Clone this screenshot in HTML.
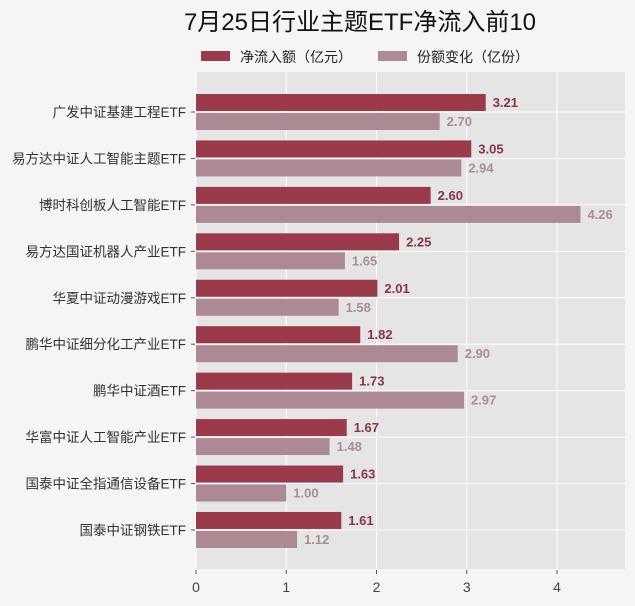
<!DOCTYPE html>
<html><head><meta charset="utf-8"><style>
body{margin:0;background:#f5f5f5;}
svg{display:block;font-family:"Liberation Sans","Noto Sans CJK SC",sans-serif;}
</style></head><body>
<svg id="c" width="635" height="606">
<rect width="635" height="606" fill="#f5f5f5"/>
<text x="360" y="30" text-anchor="middle" font-size="24" fill="#111">7月25日行业主题ETF净流入前10</text>
<g>
<rect x="201" y="51" width="29" height="10" fill="#9a3a4b"/>
<text x="240" y="62" font-size="14" fill="#222">净流入额（亿元）</text>
<rect x="378" y="51" width="29" height="10" fill="#ad8a93"/>
<text x="417" y="62" font-size="14" fill="#222">份额变化（亿份）</text>
</g>
<rect x="196" y="72" width="429" height="497" fill="#e5e5e5"/>
<g id="grid"></g><g id="bars"></g><g id="axes"></g>
</svg>
<script>
const categories=["广发中证基建工程ETF","易方达中证人工智能主题ETF","博时科创板人工智能ETF","易方达国证机器人产业ETF","华夏中证动漫游戏ETF","鹏华中证细分化工产业ETF","鹏华中证酒ETF","华富中证人工智能产业ETF","国泰中证全指通信设备ETF","国泰中证钢铁ETF"];
const netInflow=[3.21,3.05,2.60,2.25,2.01,1.82,1.73,1.67,1.63,1.61];
const shareChange=[2.70,2.94,4.26,1.65,1.58,2.90,2.97,1.48,1.00,1.12];
const xTicks=[0,1,2,3,4];
const NS="http://www.w3.org/2000/svg";
const x=v=>196+v*90.25;
const yc=i=>112+i*46.44;
function mk(t,a,p,txt){const e=document.createElementNS(NS,t);for(const k in a)e.setAttribute(k,a[k]);if(txt!==undefined)e.textContent=txt;document.getElementById(p).appendChild(e);return e;}
xTicks.forEach(t=>{
 const g=mk('line',{x1:x(t),x2:x(t),y1:72,y2:569,stroke:'#fff','stroke-width':1},'grid');
 
 
 const tk=mk('line',{x1:x(t),x2:x(t),y1:570,y2:574,stroke:'#555'},'axes');
 
 
 const l=mk('text',{x:x(t),y:592,'text-anchor':'middle','font-size':14,fill:'#444'},'axes',String(t));
 
 
});
categories.forEach((c,i)=>{
 const y=yc(i);
 const g=mk('line',{x1:196,x2:625,y1:y,y2:y,stroke:'#fff'},'grid');
 
 
 const tk=mk('line',{x1:191,x2:195,y1:y,y2:y,stroke:'#555'},'axes');
 
 
 const l=mk('text',{x:186,y:y+5,'text-anchor':'end','font-size':13.5,fill:'#333'},'axes',c);
 
 
 const b1=mk('rect',{x:x(0),y:y-18,width:x(netInflow[i])-x(0),height:17,fill:'#9a3a4b'},'bars');
 
 
 const b2=mk('rect',{x:x(0),y:y+1,width:x(shareChange[i])-x(0),height:17,fill:'#ad8a93'},'bars');
 
 
 const v1=mk('text',{x:x(netInflow[i])+7,y:y-5,'font-size':13,'font-weight':'bold',fill:'#8a3445'},'bars',netInflow[i].toFixed(2));
 
 
 const v2=mk('text',{x:x(shareChange[i])+7,y:y+14,'font-size':13,'font-weight':'bold',fill:'#a88e96'},'bars',shareChange[i].toFixed(2));
 
 
});
</script>
</body></html>
